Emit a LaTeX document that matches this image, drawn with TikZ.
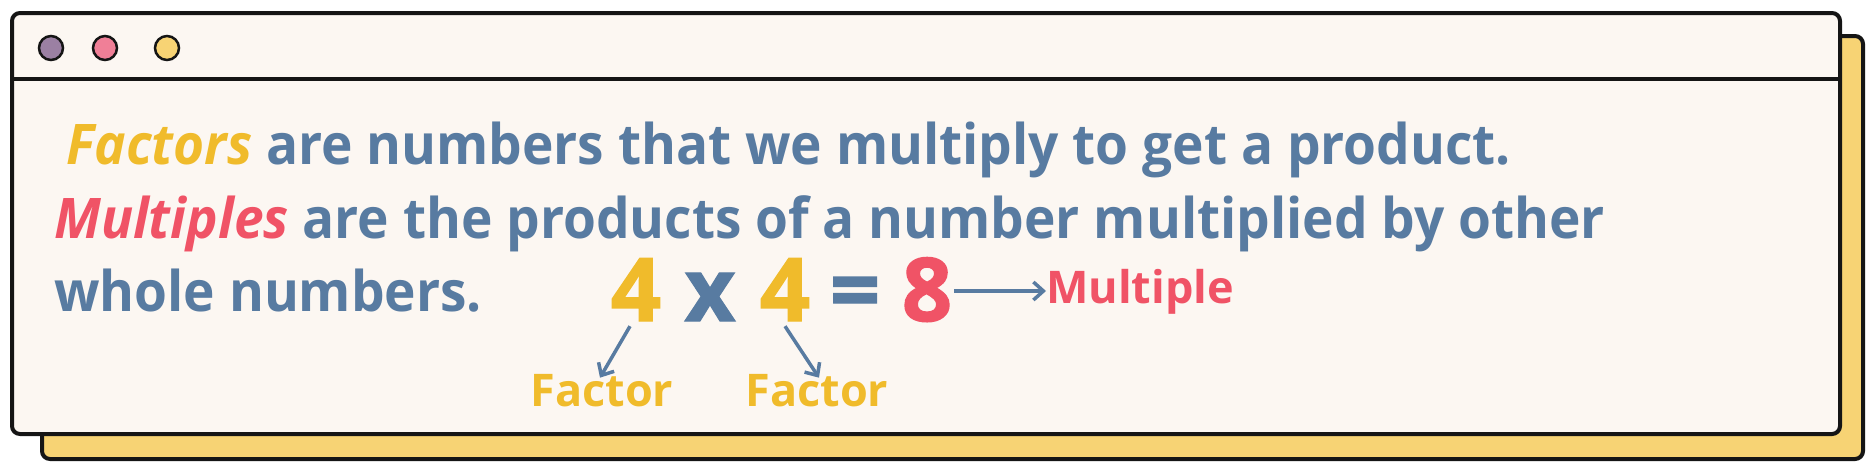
\documentclass[tikz,border=0pt]{standalone}
\usepackage{fontspec}
\setmainfont{Open Sans}
\newfontfamily\narrowsans{Open Sans}[FakeStretch=0.95]
\newfontfamily\heavysans{Open Sans}[BoldFeatures={FakeBold=1.5}]
\usetikzlibrary{arrows.meta}
\definecolor{fyellow}{HTML}{F0BB2B}
\definecolor{tblue}{HTML}{587BA1}
\definecolor{mred}{HTML}{F05366}
\definecolor{paper}{HTML}{FCF7F2}
\definecolor{backyellow}{HTML}{F7D374}
\definecolor{dotpurple}{HTML}{9B80A3}
\definecolor{dotpink}{HTML}{F07F97}
\definecolor{edge}{HTML}{151515}
\tikzset{
  win/.style={draw=edge, line width=4pt, rounded corners=8pt},
  dot/.style={draw=edge, line width=2.5pt},
  txt/.style={anchor=base west, inner sep=0pt, font=\narrowsans\fontsize{56}{60}\selectfont\bfseries},
  big/.style={anchor=base, inner sep=0pt, font=\heavysans\fontsize{88}{90}\selectfont\bfseries},
  lab/.style={anchor=base, inner sep=0pt, font=\fontsize{45}{47}\selectfont\bfseries},
  arr/.style={draw=tblue, line width=3.5pt, -{Straight Barb[length=10pt,width=18pt,line width=3.5pt]}},
}
\begin{document}
\begin{tikzpicture}[x=1pt,y=-1pt]
\useasboundingbox (0,0) rectangle (1875,475);
\draw[win, fill=backyellow] (42,36) rectangle (1863,459);
\draw[win, fill=paper] (12,13) rectangle (1840,434);
\draw[draw=edge, line width=3.5pt] (12,79) -- (1840,79);
\draw[dot, fill=dotpurple] (51,48) circle (12pt);
\draw[dot, fill=dotpink] (105,48) circle (12pt);
\draw[dot, fill=backyellow] (167,48) circle (12pt);

\node[txt] (l1) at (66,164) {{\color{fyellow}\itshape Factors} \color{tblue}are numbers that we multiply to get a product.};
\node[txt] (l2) at (54,238) {{\color{mred}\itshape Multiples} \color{tblue}are the products of a number multiplied by other};
\node[txt] (l3) at (54,311) {\color{tblue}whole numbers.};

\node[big, text=fyellow] (a) at (636,321) {4};
\node[big, text=tblue] (x) at (710,321) {x};
\node[big, text=fyellow] (b) at (785,321) {4};
\node[big, text=tblue] (eq) at (855,321) {=};
\node[big, text=mred] (c) at (927,321) {8};
\node[lab, text=mred, anchor=base west] (m) at (1046,303) {Multiple};
\node[lab, text=fyellow] (fa) at (602,406) {Factor};
\node[lab, text=fyellow] (fb) at (817,406) {Factor};

\draw[arr] (c.east |- 0,291) ++(2pt,0) -- (m.west |- 0,291);
\draw[arr] ([xshift=-6pt,yshift=-5pt]a.south) -- ([xshift=-2pt,yshift=-4pt]fa.north);
\draw[arr] ([yshift=-5pt]b.south) -- ([xshift=2pt,yshift=-4pt]fb.north);
\end{tikzpicture}
\end{document}
